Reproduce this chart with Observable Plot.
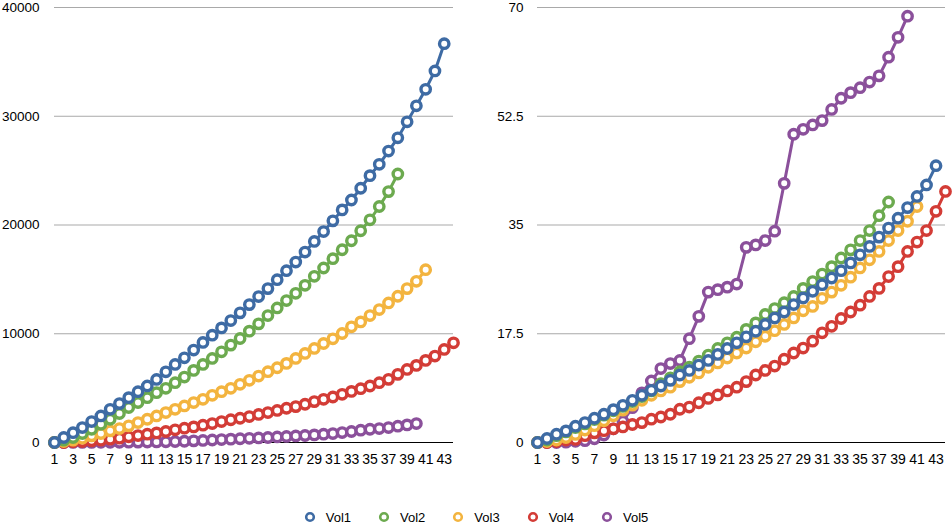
<!DOCTYPE html>
<html>
<head>
<meta charset="utf-8">
<script src="https://cdn.jsdelivr.net/npm/d3@7"></script>
<script src="https://cdn.jsdelivr.net/npm/@observablehq/plot@0.6"></script>
<style>
  body { margin: 0; background: #fff; font-family: "Liberation Sans", Arial, sans-serif; }
  #wrap { width: 952px; height: 527px; position: relative; overflow: hidden; }
  #charts { display: flex; }
  #legend { position: absolute; left: 0; top: 508px; width: 952px; height: 18px;
            display: flex; justify-content: center; align-items: center; font-size: 13px; color: #000; }
  .item { display: flex; align-items: center; margin-right: 27px; }
  .item:last-child { margin-right: 0; }
  .item svg { margin-right: 10px; }
</style>
</head>
<body>
<div id="wrap">
  <div id="charts"></div>
  <div id="legend"></div>
</div>
<script>
// ---- data ----
const seriesNames = ["Vol1", "Vol2", "Vol3", "Vol4", "Vol5"];
const seriesColors = ["#3e6ba4", "#6caa4f", "#f3b43f", "#d33c36", "#8b509b"];
const xTickLabels = [1,3,5,7,9,11,13,15,17,19,21,23,25,27,29,31,33,35,37,39,41,43];

// left panel values
const leftTicks = [0, 10000, 20000, 30000, 40000];
const leftVol1 = [0,460,900,1375,1925,2440,3050,3575,4125,4675,5200,5800,6500,7180,7790,8500,9200,9870,10540,11215,11920,12680,13420,14150,14970,15800,16590,17510,18490,19400,20380,21390,22300,23380,24540,25580,26800,28020,29490,30960,32480,34170,36670];
const leftVol2 = [0,215,460,825,1220,1680,2140,2660,3210,3670,4125,4585,4980,5500,6020,6630,7180,7730,8340,8955,9565,10240,10910,11675,12375,13050,13720,14455,15280,16045,16900,17725,18550,19470,20475,21700,23070,24690];
const leftVol3 = [0,90,215,400,610,825,1070,1285,1530,1835,2140,2445,2750,3055,3360,3670,3970,4340,4675,4980,5350,5715,6110,6510,6875,7275,7730,8190,8650,9105,9535,10025,10635,11090,11675,12225,12835,13450,14150,14820,15890];
const leftVol4 = [0,0,60,90,150,215,305,400,520,640,765,885,1010,1170,1315,1435,1590,1740,1925,2090,2230,2385,2580,2750,2950,3150,3300,3515,3760,3970,4185,4430,4700,4950,5195,5500,5805,6265,6720,7090,7550,7945,8560,9170];
const leftVol5 = [0,2,5,8,12,16,20,25,30,36,42,50,60,85,115,150,190,230,270,310,345,385,420,460,510,560,605,645,700,765,825,915,1010,1130,1220,1285,1375,1500,1620,1740];

// right panel values
const rightTicks = [0, 17.5, 35, 52.5, 70];
const rightVol1 = [0,0.64,1.34,1.87,2.62,3.21,3.9,4.55,5.29,5.99,6.79,7.59,8.4,9.09,10.0,10.86,11.6,12.46,13.2,14.17,15.13,16.04,17.0,17.9,19.0,20.05,21.0,22.2,23.26,24.33,25.4,26.47,27.65,28.9,30.2,31.55,33.05,34.5,36.1,37.8,39.6,41.45,44.55];
const rightVol2 = [0,0.4,1.1,1.7,2.4,3.0,3.7,4.4,5.1,5.8,6.6,7.4,8.3,9.47,10.4,11.4,12.14,13.1,14.07,15.13,16.04,16.95,18.2,19.25,20.6,21.55,22.5,23.5,24.8,25.9,27.1,28.3,29.7,31.0,32.5,34.1,36.5,38.7];
const rightVol3 = [0,0.15,0.4,0.8,1.3,2.0,2.7,3.5,4.3,5.2,6.0,6.8,7.6,8.3,8.9,9.8,10.5,11.2,12.1,12.8,13.6,14.4,15.2,16.2,17.1,18.0,19.0,20.05,21.2,21.9,23.2,24.2,25.3,26.6,28.1,29.4,30.75,32.5,34.1,35.6,37.97];
const rightVol4 = [0,0,0.15,0.4,0.5,1.1,1.55,1.9,2.2,2.5,2.9,3.2,3.75,4.1,4.55,5.35,5.7,6.4,7.1,7.65,8.3,8.9,9.8,10.86,11.6,12.3,13.4,14.4,15.2,16.3,17.65,18.7,19.95,21.0,22.1,23.5,24.8,26.7,28.3,30.75,32.25,34.1,37.2,40.4];
const rightVol5 = [0,0,0,0.05,0.2,0.3,0.6,1.2,2.2,3.4,5.6,8.0,9.9,11.9,12.7,13.2,16.7,20.3,24.2,24.6,25.0,25.5,31.4,31.8,32.5,34.0,41.7,49.6,50.4,51.1,51.8,53.6,55.4,56.3,57.1,58.0,59.0,62.0,65.2,68.6];

// ---- drawing ----
function panel(series, ticks, marginLeft, marginRight, tickPad) {
  const marks = [
    Plot.ruleY(ticks.filter(t => t > 0), {stroke: "#a9a9a9", strokeWidth: 1}),
    Plot.ruleY([0], {stroke: "#000", strokeWidth: 1}),
    Plot.axisY({ticks, tickSize: 0, tickPadding: tickPad, label: null, fontSize: 13.5, tickFormat: d => String(d)}),
    Plot.axisX({ticks: xTickLabels, tickSize: 0, tickPadding: 12, label: null, fontSize: 14, tickFormat: d => String(d)})
  ];
  for (let k = series.length - 1; k >= 0; k--) {
    const rows = series[k].map((v, i) => ({x: i + 1, y: v}));
    marks.push(Plot.line(rows, {x: "x", y: "y", stroke: seriesColors[k], strokeWidth: 3}));
    marks.push(Plot.dot(rows, {x: "x", y: "y", r: 4.7, stroke: seriesColors[k], strokeWidth: 3.4, fill: "white"}));
  }
  return Plot.plot({
    width: 476, height: 470,
    marginLeft, marginRight, marginTop: 7, marginBottom: 28,
    x: {domain: [1, 44]},
    y: {domain: [ticks[0], ticks[ticks.length - 1]]},
    style: {fontFamily: "'Liberation Sans', Arial, sans-serif", color: "#000", background: "#fff", overflow: "visible"},
    marks
  });
}

const charts = document.getElementById("charts");
charts.appendChild(panel([leftVol1, leftVol2, leftVol3, leftVol4, leftVol5], leftTicks, 54, 23, 15));
charts.appendChild(panel([rightVol1, rightVol2, rightVol3, rightVol4, rightVol5], rightTicks, 61, 7, 14));

const legend = document.getElementById("legend");
seriesNames.forEach((name, k) => {
  const item = document.createElement("div");
  item.className = "item";
  item.innerHTML = `<svg width="12" height="12"><circle cx="6" cy="6" r="3.8" fill="white" stroke="${seriesColors[k]}" stroke-width="2.6"/></svg><span>${name}</span>`;
  legend.appendChild(item);
});
</script>
</body>
</html>
